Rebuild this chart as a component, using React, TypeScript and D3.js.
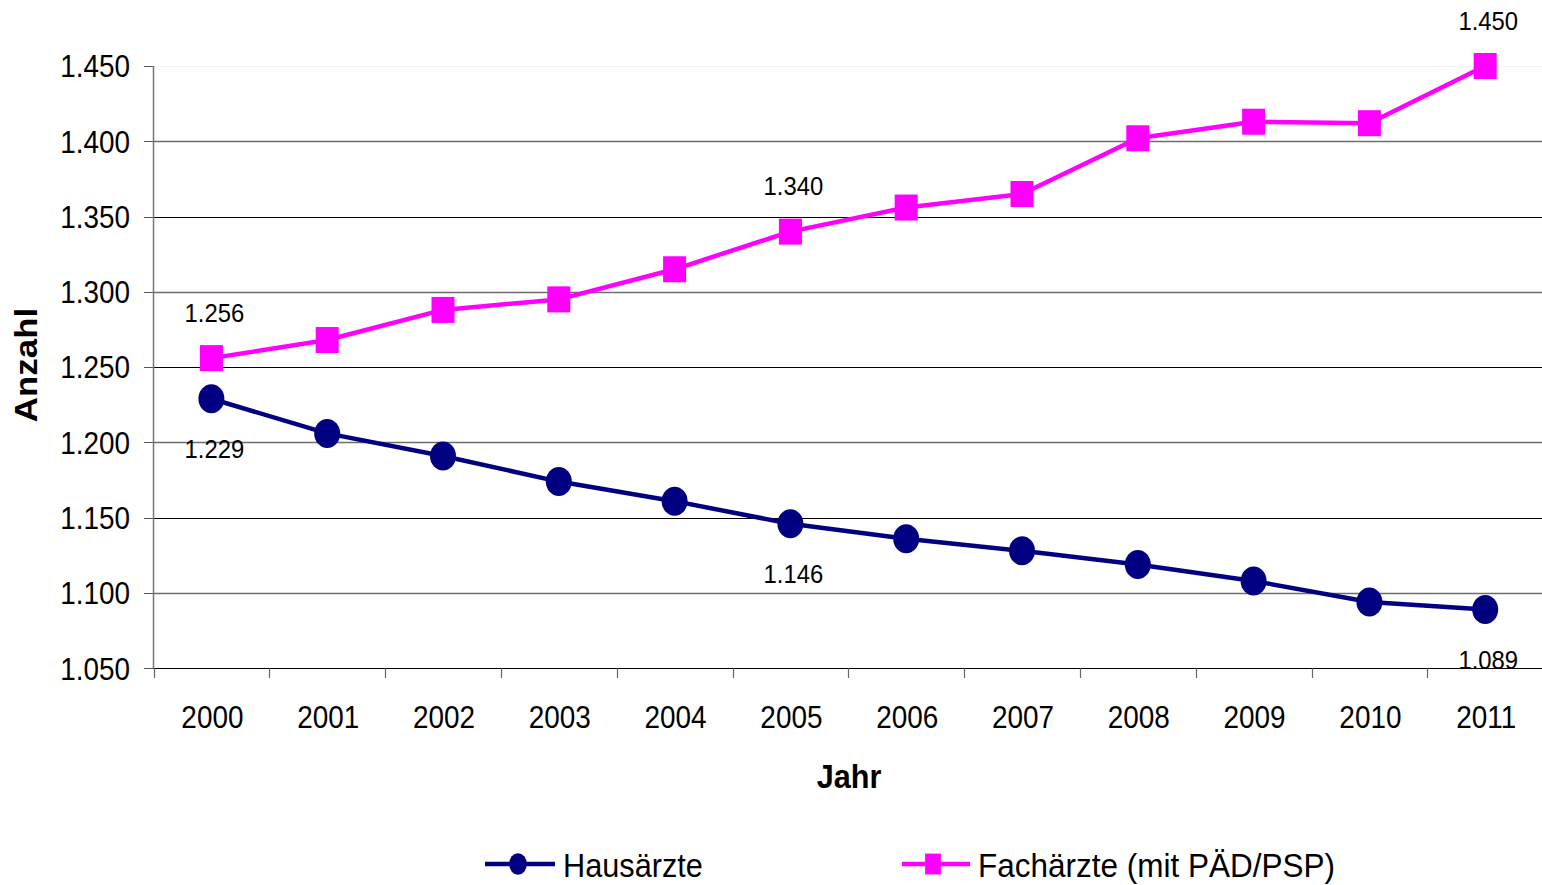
import React from "react";
import * as d3 from "d3";

const years = ["2000","2001","2002","2003","2004","2005","2006","2007","2008","2009","2010","2011"];
const hausaerzte = [1229, 1206, 1191, 1174, 1161, 1146, 1136, 1128, 1119, 1108, 1094, 1089];
const fachaerzte = [1256, 1268, 1288, 1295, 1315, 1340, 1356, 1365, 1402, 1413, 1412, 1450];
const yTicks = [1050, 1100, 1150, 1200, 1250, 1300, 1350, 1400, 1450];
const labelIdx = [0, 5, 11];
const seriesNames = ["Hausärzte", "Fachärzte (mit PÄD/PSP)"];
const NAVY = "#000080";
const MAGENTA = "#FF00FF";
const FONT = "'Liberation Sans', Arial, sans-serif";

const fmtK = (v: number) => {
  const s = String(v);
  return s.slice(0, s.length - 3) + "." + s.slice(s.length - 3);
};

function T({ x, y, size, sx = 1, anchor = "start", weight = "normal", children, rotate = 0 }: any) {
  return (
    <text
      transform={`translate(${x},${y}) rotate(${rotate}) scale(${sx},1)`}
      fontSize={size}
      fontFamily={FONT}
      fontWeight={weight}
      textAnchor={anchor}
      fill="#000"
    >
      {children}
    </text>
  );
}

export default function App() {
  const W = 1542, H = 885;
  const left = 153.5;
  const band = 115.8;
  const x = d3.scaleBand<string>().domain(years).range([left, left + band * years.length]).padding(0);
  const cx = (i: number) => (x(years[i]) as number) + x.bandwidth() / 2;
  const y = d3.scaleLinear().domain([1050, 1450]).range([668.3, 66]);

  const line = d3.line<number>().x((_, i) => cx(i)).y((d) => y(d));

  return (
    <svg width={W} height={H} style={{ position: "absolute", left: 0, top: 0, background: "#fff" }}>
      <rect x={0} y={0} width={W} height={H} fill="#fff" />
      {yTicks.map((t) => (
        <line key={"g" + t} x1={left} x2={W} y1={Math.round(y(t)) + 0.5} y2={Math.round(y(t)) + 0.5}
          stroke={t === 1450 ? "#f2f2f2" : t % 100 === 0 ? "#6e6e6e" : "#000"} strokeWidth={t % 100 === 0 && t !== 1450 ? 1.5 : 1} />
      ))}
      {yTicks.map((t) => (
        <line key={"yt" + t} x1={144} x2={left} y1={Math.round(y(t)) + 0.5} y2={Math.round(y(t)) + 0.5} stroke="#555" strokeWidth={1} />
      ))}
      <line x1={left} x2={W} y1={Math.round(y(1050)) + 0.5} y2={Math.round(y(1050)) + 0.5} stroke="#000" strokeWidth={1} />
      {years.map((yr) => (
        <line key={"xt" + yr} x1={Math.round(x(yr) as number) + 0.5} x2={Math.round(x(yr) as number) + 0.5}
          y1={y(1050)} y2={678} stroke="#666" strokeWidth={1.2} />
      ))}
      <line x1={left} x2={left} y1={y(1450)} y2={y(1050)} stroke="#777" strokeWidth={1.5} />

      {yTicks.map((t) => (
        <T key={"yl" + t} x={130} y={y(t) + 11.3} size={31.5} sx={0.885} anchor="end">{fmtK(t)}</T>
      ))}
      {years.map((yr, i) => (
        <T key={"xl" + yr} x={cx(i) + 1} y={728} size={31} sx={0.9} anchor="middle">{yr}</T>
      ))}

      <T x={849} y={788} size={34} sx={0.9} anchor="middle" weight="bold">Jahr</T>
      <T x={37} y={365} size={32} sx={1.09} anchor="middle" weight="bold" rotate={-90}>Anzahl</T>

      <path d={line(hausaerzte) as string} fill="none" stroke={NAVY} strokeWidth={4.5} strokeLinejoin="round" />
      <path d={line(fachaerzte) as string} fill="none" stroke={MAGENTA} strokeWidth={4.5} strokeLinejoin="round" />

      {hausaerzte.map((v, i) => (
        <ellipse key={"hm" + i} cx={cx(i)} cy={y(v)} rx={13} ry={14.5} fill={NAVY} />
      ))}
      {fachaerzte.map((v, i) => (
        <rect key={"fm" + i} x={cx(i) - 11.5} y={y(v) - 13} width={23} height={26} fill={MAGENTA} />
      ))}

      {labelIdx.map((i) => (
        <T key={"fl" + i} x={cx(i) + 3} y={y(fachaerzte[i]) - 36.5} size={26.5} sx={0.9} anchor="middle">{fmtK(fachaerzte[i])}</T>
      ))}
      {labelIdx.map((i) => (
        <T key={"hl" + i} x={cx(i) + 3} y={y(hausaerzte[i]) + 59} size={26.5} sx={0.9} anchor="middle">{fmtK(hausaerzte[i])}</T>
      ))}

      <line x1={485} x2={555} y1={864} y2={864} stroke={NAVY} strokeWidth={4.5} />
      <ellipse cx={518} cy={864} rx={8.8} ry={10.8} fill={NAVY} />
      <T x={563} y={877} size={33} sx={0.93}>{seriesNames[0]}</T>

      <line x1={902} x2={970} y1={864} y2={864} stroke={MAGENTA} strokeWidth={4.5} />
      <rect x={933 - 7.9} y={864 - 10.4} width={15.8} height={20.8} fill={MAGENTA} />
      <T x={978} y={877} size={33} sx={0.955}>{seriesNames[1]}</T>
    </svg>
  );
}
